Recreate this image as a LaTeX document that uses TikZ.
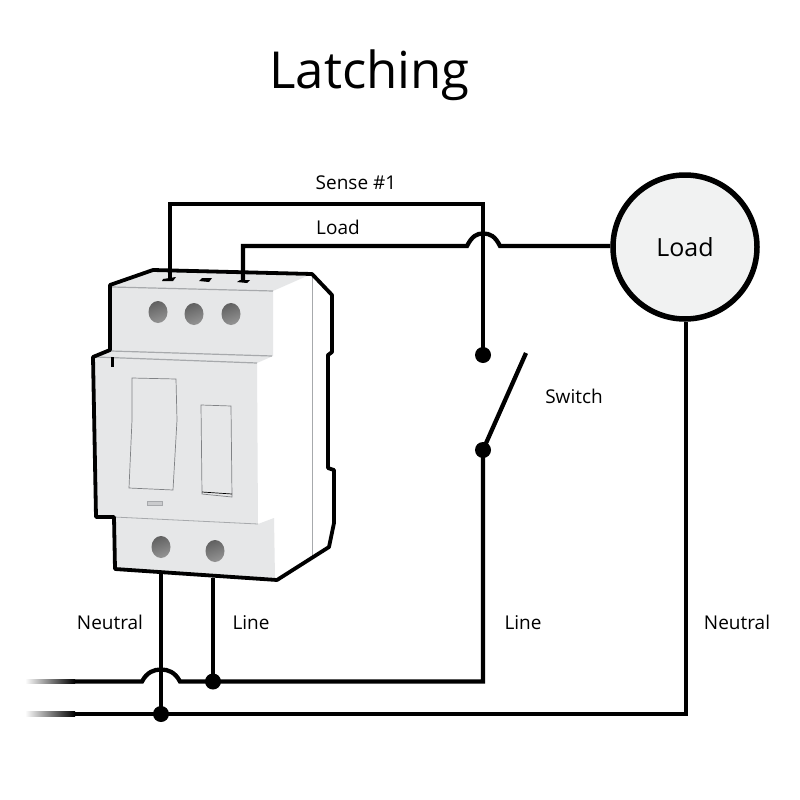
\documentclass[tikz,border=0pt]{standalone}
\usepackage{fontspec}
\setmainfont{Open Sans}
\usetikzlibrary{calc}
\definecolor{face}{HTML}{E6E7E8}
\definecolor{edge}{HTML}{A7A9AC}
\definecolor{thin}{HTML}{808285}
\definecolor{loadfill}{HTML}{F1F2F2}
\tikzset{
  wire/.style={line width=4.3pt,line join=miter},
  outline/.style={line width=3.8pt,line join=round},
  joint/.style={circle,fill=black,inner sep=0pt,minimum size=16pt},
  labeltext/.style={font=\fontsize{19}{22}\selectfont,inner sep=0pt,anchor=center},
  loadbox/.style={circle,draw=black,line width=5.5pt,fill=loadfill,minimum size=144pt,inner sep=0pt,font=\fontsize{25}{28}\selectfont},
  hole/.style={draw=none,left color=black!62,right color=black!42,shading angle=20},
  part/.style={draw=thin,line width=0.7pt,fill=face},
}
\begin{document}
\begin{tikzpicture}[x=1pt,y=-1pt]
\useasboundingbox (0,0) rectangle (800,800);
\fill[white] (0,0) rectangle (800,800);
% device faces
\fill[white] (110,285) -- (153,270) -- (312,274) -- (332,295) -- (332,352) -- (328,355) -- (328,468) -- (334,470) -- (334,523) -- (329,547) -- (277,580) -- (115,569) -- (114,517) -- (96,517) -- (93,357) -- (110,350) -- cycle;
\fill[face] (112,287) -- (153,271) -- (307,276) -- (273,291) -- (273,356) -- (257,363) -- (258,524) -- (274,518) -- (275,578) -- (115,569) -- (114,517) -- (96,517) -- (93,357) -- (111,351) -- cycle;
\draw[edge,line width=1.2pt] (112,287) -- (273,291);
\draw[edge,line width=1.2pt] (111,351) -- (272,356);
\draw[edge,line width=1.2pt] (96,357) -- (257,363);
\draw[edge,line width=0.8pt] (114,517) -- (258,524);
\draw[edge,line width=0.8pt] (312,274) -- (312,557);
% holes
\foreach \n/\x/\y in {h1/158/312,h2/194/314,h3/231/314,h4/161/547,h5/215/551}
  \shade[hole] (\x,\y) ellipse [x radius=9.5pt,y radius=11pt];
% switches
\draw[part] (132,378) -- (176,379) -- (177,420) -- (173,490) -- (129,488) -- (132,420) -- cycle;
\draw[part] (201,405) -- (231,406) -- (232,497) -- (202,494) -- cycle;
\draw[thin,line width=0.7pt] (202,492) -- (232,494);
\draw[edge,fill=edge!60!white,line width=0.6pt] (147,501) rectangle (162,505);
\fill[thin] (110.5,357) rectangle (113.5,367);
\fill[thin] (163,279) -- (176,277) -- (173,281) -- (162,281) -- cycle;
\fill[thin] (199,281) -- (202,278) -- (212,278) -- (209,282) -- cycle;
\fill[thin] (237,282) -- (240,280) -- (250,280) -- (247,283) -- cycle;
% outline
\draw[outline] (110,285) -- (153,270) -- (312,274) -- (332,295) -- (332,352) -- (328,355) -- (328,468) -- (334,470) -- (334,523) -- (329,547) -- (277,580) -- (115,569) -- (114,517) -- (96,517) -- (93,357) -- (110,350) -- cycle;
% terminals and free ends
\coordinate (tSense) at (170,279);
\coordinate (tLoad) at (243,281);
\coordinate (tNeutral) at (161,573);
\coordinate (tLine) at (213,578);
\coordinate (cSenseA) at (170,204);
\coordinate (cSenseB) at (483,204);
\coordinate (cLoadA) at (243,246);
\coordinate (cLoadB) at (467,246);
\coordinate (cLoadC) at (500,246);
\coordinate (cLineA) at (483,681.5);
\coordinate (cLineB) at (180,681.5);
\coordinate (cLineC) at (142,681.5);
\coordinate (cLineD) at (75,681.5);
\coordinate (cNeutralA) at (75,714);
\coordinate (cNeutralB) at (686,714);
\coordinate (swOpen) at (526,353);
% nodes
\node[loadbox] (load) at (685,247) {Load};
\node[joint] (j1) at (483,355) {};
\node[joint] (j2) at (483,450) {};
\node[joint] (j3) at (213,681.5) {};
\node[joint] (j4) at (161,714) {};
% fading ends
\shade[left color=white,right color=black] (25,679.35) rectangle (75,683.65);
\shade[left color=white,right color=black] (25,711.85) rectangle (75,716.15);
% wires
\draw[wire] (tSense) -- (cSenseA) -- (cSenseB) -- (j1.center);
\draw[wire] (tLoad) -- (cLoadA) -- (cLoadB) .. controls (472,236) and (477,233.5) .. (483,233.5) .. controls (490,233.5) and (495,236) .. (cLoadC) -- (cLoadC -| load.west);
\draw[wire] (j2.center) -- (swOpen);
\draw[wire] (j2.center) -- (cLineA) -- (cLineB) .. controls (175,672) and (168,669.5) .. (161,669.5) .. controls (154,669.5) and (147,672) .. (cLineC) -- (cLineD);
\draw[wire] (tLine) -- (j3.center);
\draw[wire] (tNeutral) -- (j4.center);
\draw[wire] (cNeutralA) -- (cNeutralB) -- (cNeutralB |- load.south);
% labels
\node[font=\fontsize{51}{60}\selectfont,inner sep=0pt] (title) at (369.5,75.5) {Latching};
\node[labeltext] (lSense) at (356,183) {Sense \#1};
\node[labeltext] (lLoad) at (338,227) {Load};
\node[labeltext] (lSwitch) at (574,396) {Switch};
\node[labeltext] (lNeutralA) at (110,622.5) {Neutral};
\node[labeltext] (lLineA) at (251,622.5) {Line};
\node[labeltext] (lLineB) at (523,622.5) {Line};
\node[labeltext] (lNeutralB) at (737,622.5) {Neutral};
\end{tikzpicture}
\end{document}
